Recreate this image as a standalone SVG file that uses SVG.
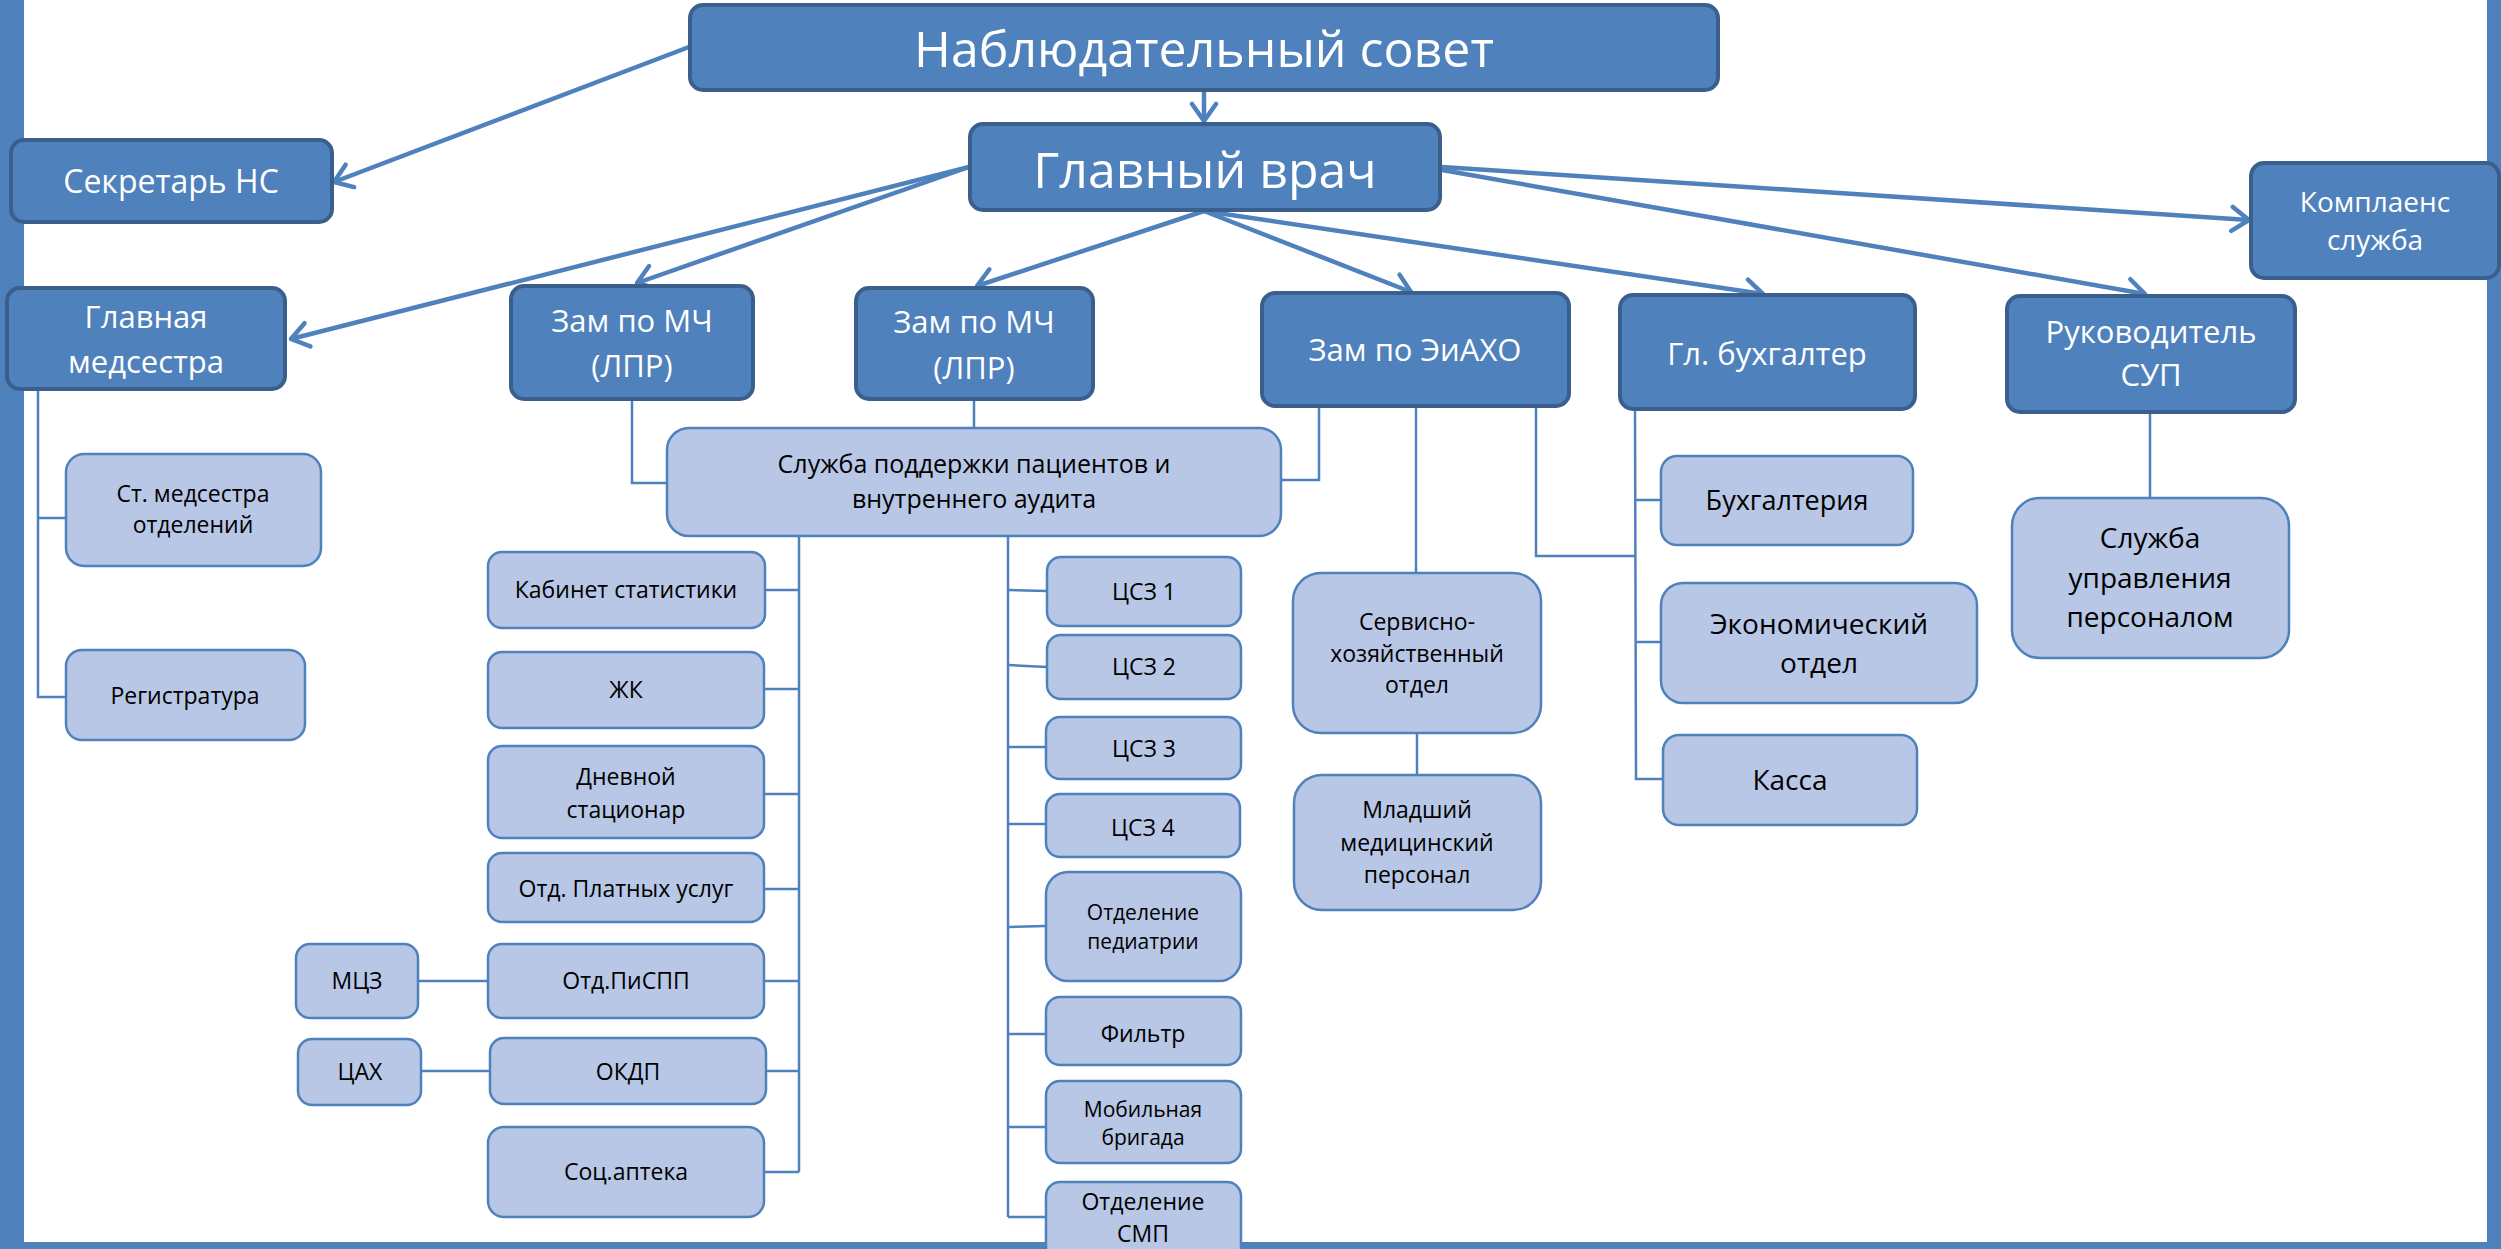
<svg xmlns="http://www.w3.org/2000/svg" width="2501" height="1249" viewBox="0 0 2501 1249">
<defs>
<style>
.dk{fill:#4F81BD;stroke:#3A5F8C;stroke-width:4}
.lt{fill:#B8C7E5;stroke:#4F81BD;stroke-width:2.5}
.tw{font-family:"Open Sans","Noto Sans",sans-serif;fill:#FFFFFF;text-anchor:middle}
.tb{font-family:"Open Sans","Noto Sans",sans-serif;fill:#000000;text-anchor:middle}
.ar{stroke:#4F81BD;stroke-width:4.5;fill:none;marker-end:url(#ah)}
.cn{stroke:#4F81BD;stroke-width:2.5;fill:none}
</style>
<marker id="ah" markerUnits="userSpaceOnUse" viewBox="-22 -15 26 30" markerWidth="26" markerHeight="30" refX="0" refY="0" orient="auto">
<path d="M-17,-12 L0,0 L-17,12" fill="none" stroke="#4F81BD" stroke-width="4.5" stroke-linecap="round" stroke-linejoin="round"/>
</marker>
</defs>
<rect x="0" y="0" width="2501" height="1249" fill="#FFFFFF"/>
<g id="frame">
<rect x="0" y="0" width="24" height="1249" fill="#4F81BD"/>
<rect x="2487" y="0" width="14" height="1249" fill="#4F81BD"/>
<rect x="0" y="1242" width="2501" height="7" fill="#4F81BD"/>
</g>
<g id="connectors">
<line class="ar" x1="689" y1="47" x2="334" y2="182"/>
<line class="ar" x1="1204" y1="90" x2="1204" y2="121"/>
<line class="ar" x1="969" y1="167" x2="291" y2="339"/>
<line class="ar" x1="969" y1="167" x2="637" y2="283"/>
<line class="ar" x1="1204" y1="211" x2="977" y2="286"/>
<line class="ar" x1="1204" y1="211" x2="1411" y2="292"/>
<line class="ar" x1="1204" y1="211" x2="1763" y2="294"/>
<line class="ar" x1="1442" y1="170" x2="2145" y2="294"/>
<line class="ar" x1="1442" y1="167" x2="2249" y2="220"/>
<polyline class="cn" points="38,390 38,697 66,697"/>
<line class="cn" x1="38" y1="518" x2="66" y2="518"/>
<polyline class="cn" points="632,400 632,483 667,483"/>
<line class="cn" x1="974" y1="400" x2="974" y2="427"/>
<polyline class="cn" points="1319,406 1319,480 1281,480"/>
<line class="cn" x1="1416" y1="406" x2="1416" y2="573"/>
<polyline class="cn" points="1536,406 1536,556 1636,556"/>
<line class="cn" x1="1417" y1="733" x2="1417" y2="775"/>
<polyline class="cn" points="1635,409 1636,779 1662,779"/>
<line class="cn" x1="1636" y1="500" x2="1661" y2="500"/>
<line class="cn" x1="1636" y1="642" x2="1661" y2="642"/>
<line class="cn" x1="2150" y1="412" x2="2150" y2="498"/>
<line class="cn" x1="799" y1="537" x2="799" y2="1172"/>
<line class="cn" x1="765" y1="590" x2="799" y2="590"/>
<line class="cn" x1="764" y1="689" x2="799" y2="689"/>
<line class="cn" x1="764" y1="794" x2="799" y2="794"/>
<line class="cn" x1="764" y1="889" x2="799" y2="889"/>
<line class="cn" x1="764" y1="981" x2="799" y2="981"/>
<line class="cn" x1="766" y1="1071" x2="799" y2="1071"/>
<line class="cn" x1="764" y1="1172" x2="799" y2="1172"/>
<line class="cn" x1="418" y1="981" x2="488" y2="981"/>
<line class="cn" x1="421" y1="1071" x2="490" y2="1071"/>
<line class="cn" x1="1008" y1="537" x2="1008" y2="1217"/>
<line class="cn" x1="1008" y1="590" x2="1047" y2="591"/>
<line class="cn" x1="1008" y1="665" x2="1047" y2="667"/>
<line class="cn" x1="1008" y1="747" x2="1047" y2="747"/>
<line class="cn" x1="1008" y1="824" x2="1047" y2="824"/>
<line class="cn" x1="1008" y1="927" x2="1046" y2="926"/>
<line class="cn" x1="1008" y1="1034" x2="1047" y2="1034"/>
<line class="cn" x1="1008" y1="1127" x2="1047" y2="1127"/>
<line class="cn" x1="1008" y1="1217" x2="1047" y2="1217"/>
</g>
<g id="n-nabl"><rect class="dk" x="690" y="5" width="1028" height="85" rx="13"/><text class="tw" x="1204" y="67" font-size="50">Наблюдательный совет</text></g>
<g id="n-glavvrach"><rect class="dk" x="970" y="124" width="470" height="86" rx="13"/><text class="tw" x="1205" y="188" font-size="50">Главный врач</text></g>
<g id="n-sekretar"><rect class="dk" x="11" y="140" width="321" height="82" rx="13"/><text class="tw" x="171" y="193" font-size="32">Секретарь НС</text></g>
<g id="n-medsestra"><rect class="dk" x="7" y="288" width="278" height="101" rx="13"/><text class="tw" x="146" y="328" font-size="31">Главная</text><text class="tw" x="146" y="373" font-size="31">медсестра</text></g>
<g id="n-zam1"><rect class="dk" x="511" y="286" width="242" height="113" rx="13"/><text class="tw" x="632" y="332" font-size="31">Зам по МЧ</text><text class="tw" x="632" y="377" font-size="31">(ЛПР)</text></g>
<g id="n-zam2"><rect class="dk" x="856" y="288" width="237" height="111" rx="13"/><text class="tw" x="974" y="333" font-size="31">Зам по МЧ</text><text class="tw" x="974" y="379" font-size="31">(ЛПР)</text></g>
<g id="n-zamaxo"><rect class="dk" x="1262" y="293" width="307" height="113" rx="13"/><text class="tw" x="1415" y="361" font-size="31">Зам по ЭиАХО</text></g>
<g id="n-buh"><rect class="dk" x="1620" y="295" width="295" height="114" rx="13"/><text class="tw" x="1767" y="365" font-size="31">Гл. бухгалтер</text></g>
<g id="n-sup"><rect class="dk" x="2007" y="296" width="288" height="116" rx="13"/><text class="tw" x="2151" y="343" font-size="31">Руководитель</text><text class="tw" x="2151" y="386" font-size="31">СУП</text></g>
<g id="n-kompl"><rect class="dk" x="2251" y="163" width="248" height="115" rx="13"/><text class="tw" x="2375" y="212" font-size="28">Комплаенс</text><text class="tw" x="2375" y="250" font-size="28">служба</text></g>
<g id="n-sluzhba"><rect class="lt" x="667" y="428" width="614" height="108" rx="22"/><text class="tb" x="974" y="473" font-size="25">Служба поддержки пациентов и</text><text class="tb" x="974" y="508" font-size="25">внутреннего аудита</text></g>
<g id="n-stmed"><rect class="lt" x="66" y="454" width="255" height="112" rx="18"/><text class="tb" x="193" y="502" font-size="23">Ст. медсестра</text><text class="tb" x="193" y="533" font-size="23">отделений</text></g>
<g id="n-reg"><rect class="lt" x="66" y="650" width="239" height="90" rx="16"/><text class="tb" x="185" y="704" font-size="23">Регистратура</text></g>
<g id="n-kabstat"><rect class="lt" x="488" y="552" width="277" height="76" rx="14"/><text class="tb" x="626" y="598" font-size="23">Кабинет статистики</text></g>
<g id="n-zhk"><rect class="lt" x="488" y="652" width="276" height="76" rx="14"/><text class="tb" x="626" y="698" font-size="23">ЖК</text></g>
<g id="n-dnev"><rect class="lt" x="488" y="746" width="276" height="92" rx="14"/><text class="tb" x="626" y="785" font-size="23">Дневной</text><text class="tb" x="626" y="818" font-size="23">стационар</text></g>
<g id="n-platn"><rect class="lt" x="488" y="853" width="276" height="69" rx="14"/><text class="tb" x="626" y="897" font-size="23">Отд. Платных услуг</text></g>
<g id="n-pispp"><rect class="lt" x="488" y="944" width="276" height="74" rx="14"/><text class="tb" x="626" y="989" font-size="23">Отд.ПиСПП</text></g>
<g id="n-mcz"><rect class="lt" x="296" y="944" width="122" height="74" rx="14"/><text class="tb" x="357" y="989" font-size="23">МЦЗ</text></g>
<g id="n-okdp"><rect class="lt" x="490" y="1038" width="276" height="66" rx="14"/><text class="tb" x="628" y="1080" font-size="23">ОКДП</text></g>
<g id="n-cax"><rect class="lt" x="298" y="1039" width="123" height="66" rx="14"/><text class="tb" x="360" y="1080" font-size="23">ЦАХ</text></g>
<g id="n-socapt"><rect class="lt" x="488" y="1127" width="276" height="90" rx="16"/><text class="tb" x="626" y="1180" font-size="23">Соц.аптека</text></g>
<g id="n-csz1"><rect class="lt" x="1047" y="557" width="194" height="69" rx="14"/><text class="tb" x="1144" y="600" font-size="23">ЦСЗ 1</text></g>
<g id="n-csz2"><rect class="lt" x="1047" y="635" width="194" height="64" rx="14"/><text class="tb" x="1144" y="675" font-size="23">ЦСЗ 2</text></g>
<g id="n-csz3"><rect class="lt" x="1046" y="717" width="195" height="62" rx="14"/><text class="tb" x="1144" y="757" font-size="23">ЦСЗ 3</text></g>
<g id="n-csz4"><rect class="lt" x="1046" y="794" width="194" height="63" rx="14"/><text class="tb" x="1143" y="836" font-size="23">ЦСЗ 4</text></g>
<g id="n-pediatr"><rect class="lt" x="1046" y="872" width="195" height="109" rx="22"/><text class="tb" x="1143" y="920" font-size="21">Отделение</text><text class="tb" x="1143" y="949" font-size="21">педиатрии</text></g>
<g id="n-filtr"><rect class="lt" x="1046" y="997" width="195" height="68" rx="14"/><text class="tb" x="1143" y="1042" font-size="23">Фильтр</text></g>
<g id="n-mobil"><rect class="lt" x="1046" y="1081" width="195" height="82" rx="14"/><text class="tb" x="1143" y="1117" font-size="21">Мобильная</text><text class="tb" x="1143" y="1145" font-size="21">бригада</text></g>
<g id="n-smp"><rect class="lt" x="1046" y="1182" width="195" height="90" rx="14"/><text class="tb" x="1143" y="1210" font-size="23">Отделение</text><text class="tb" x="1143" y="1242" font-size="23">СМП</text></g>
<g id="n-serv"><rect class="lt" x="1293" y="573" width="248" height="160" rx="28"/><text class="tb" x="1417" y="630" font-size="23">Сервисно-</text><text class="tb" x="1417" y="662" font-size="23">хозяйственный</text><text class="tb" x="1417" y="693" font-size="23">отдел</text></g>
<g id="n-mladsh"><rect class="lt" x="1294" y="775" width="247" height="135" rx="28"/><text class="tb" x="1417" y="818" font-size="23">Младший</text><text class="tb" x="1417" y="851" font-size="23">медицинский</text><text class="tb" x="1417" y="883" font-size="23">персонал</text></g>
<g id="n-buhg"><rect class="lt" x="1661" y="456" width="252" height="89" rx="16"/><text class="tb" x="1787" y="510" font-size="27">Бухгалтерия</text></g>
<g id="n-ekon"><rect class="lt" x="1661" y="583" width="316" height="120" rx="22"/><text class="tb" x="1819" y="634" font-size="28">Экономический</text><text class="tb" x="1819" y="673" font-size="28">отдел</text></g>
<g id="n-kassa"><rect class="lt" x="1663" y="735" width="254" height="90" rx="16"/><text class="tb" x="1790" y="790" font-size="28">Касса</text></g>
<g id="n-sup2"><rect class="lt" x="2012" y="498" width="277" height="160" rx="28"/><text class="tb" x="2150" y="548" font-size="28">Служба</text><text class="tb" x="2150" y="588" font-size="28">управления</text><text class="tb" x="2150" y="627" font-size="28">персоналом</text></g>
</svg>
